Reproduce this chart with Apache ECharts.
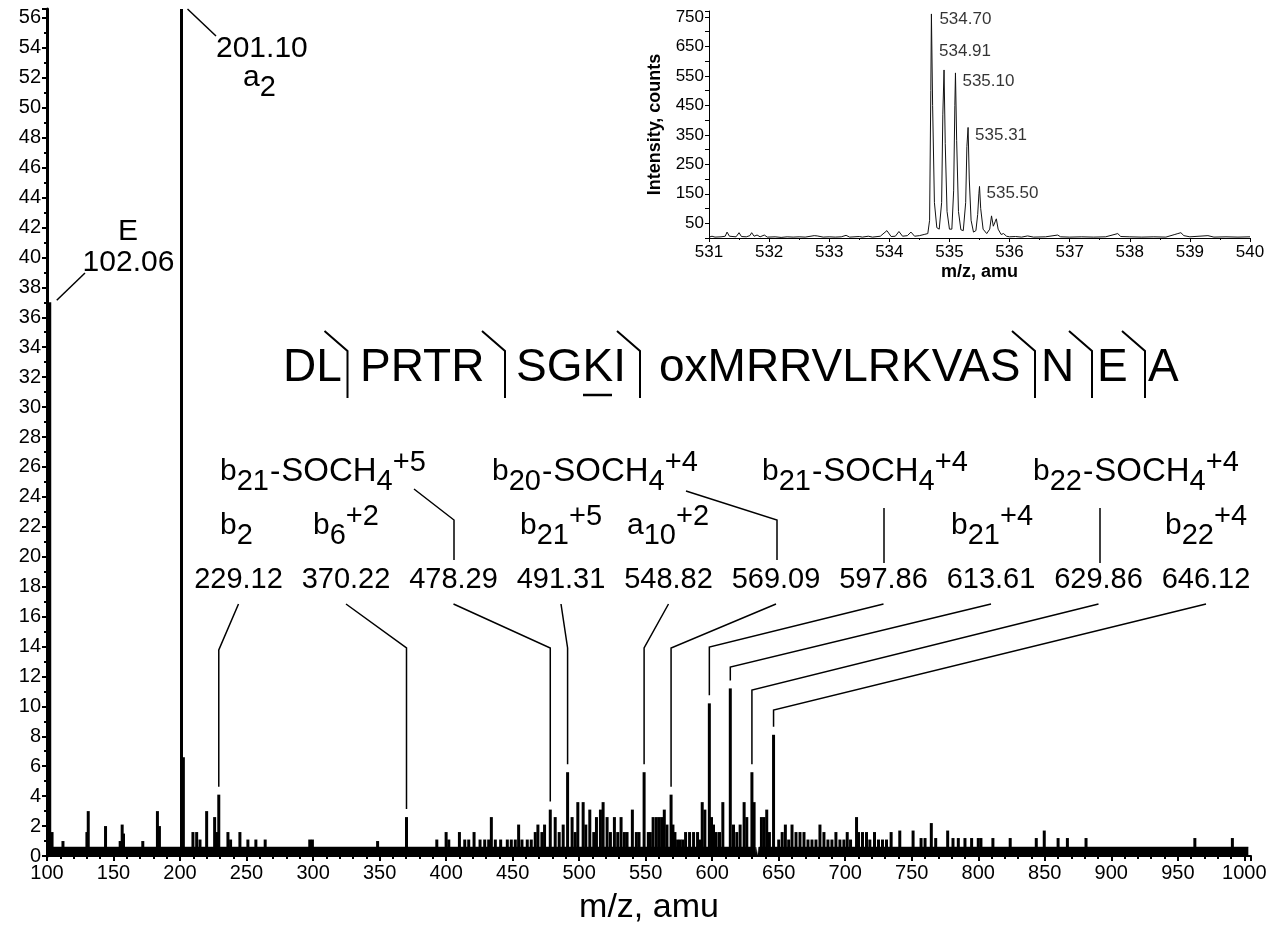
<!DOCTYPE html>
<html><head><meta charset="utf-8">
<script src="https://cdn.jsdelivr.net/npm/echarts@6/dist/echarts.min.js"></script>
<style>html,body{margin:0;padding:0;background:#fff}#c{width:1270px;height:928px}</style>
</head><body><div id="c"></div>
<script>
// ---------------- DATA ----------------
// MS/MS stick spectrum: peak m/z and relative intensity (201.10 is off scale)
const peakMz = [102.06,103.8,112,130,131,144,155,156.5,157.5,172,183,184.5,201.10,202.5,209.7,212.5,215,220,226,228,229.12,236,238,245,251,257,264,297.5,299.5,
  348.5,370.22,393,400,402,410,414,417,421,425.5,429,432,434,437,441,446,449,452,454.5,457,461,464,467,469,472,474,478.29,482,485,488,491.31,494.7,497,499,503,505,508,511,513,516,518,521,523.5,526.5,529,531.5,534,536,540,543,545,
  548.82,552,553.5,555.6,558,560,562,564,566,569.09,570.5,572,574,576,578,580,583,586,589,590.5,592.5,594.5,597.86,599.5,601,603,605.5,608,613.61,616,618.5,621,624,626,629.86,631.5,637,639,641,643,646.12,
  650,652.6,655,657.5,660,663,666,669,672,675,678,681,684,687,690,693,696,699,701.5,704,708.5,710,713,716,718.5,722,725,728,731,734.5,741,751,757,760,764.7,768,777,781,785,790,795,800,802,811,824,843.6,849.6,860,867,881,962.8,991];
const peakIntensity = [37,1.6,1.0,1.6,3.0,2.0,1.0,2.1,1.5,1.0,3.0,2.0,60,6.6,1.6,1.6,1.1,3.0,2.6,1.6,4.1,1.6,1.1,1.6,1.1,1.1,1.1,1.1,1.1,
  1.0,2.6,1.1,1.6,1.1,1.6,1.1,1.1,1.6,1.1,1.1,1.1,2.6,1.1,1.1,1.1,1.1,1.1,2.1,1.1,1.1,1.1,1.6,2.1,1.6,2.1,3.1,2.6,1.6,2.1,5.6,2.6,1.6,3.6,3.6,2.1,3.1,1.6,2.6,3.1,3.6,2.6,1.6,2.6,1.6,2.6,1.6,1.6,3.1,1.6,1.6,
  5.6,1.6,1.6,2.6,2.6,2.6,2.6,3.1,2.1,4.1,2.1,1.6,1.1,1.1,1.1,1.6,1.6,1.6,1.6,1.1,3.6,3.1,10.2,2.6,2.1,1.6,1.6,3.6,11.2,2.1,1.6,2.1,3.6,2.6,5.6,3.6,2.6,2.6,3.1,1.6,8.1,
  1.1,1.6,2.1,1.1,2.1,1.6,1.6,1.6,1.1,1.1,1.1,2.1,1.6,1.1,1.1,1.6,1.1,1.1,1.6,1.1,2.6,1.6,1.6,1.6,1.1,1.6,1.1,1.1,1.1,1.6,1.7,1.7,1.2,1.2,2.2,1.2,1.7,1.2,1.2,1.2,1.2,1.2,1.2,1.2,1.2,1.2,1.7,1.2,1.2,1.2,1.2,1.2];
// unresolved noise floor
const noiseMz    = [100, 632, 632, 632.8, 632.8, 634.2, 634.2, 635, 635, 1003];
const noiseLevel = [0.6, 0.6, 0,   0,     0.6,   0.6,   0,     0,   0.6, 0.6];

// annotated fragment ions
const annotMz     = [229.12, 370.22, 478.29, 491.31, 548.82, 569.09, 597.86, 613.61, 629.86, 646.12];
const annotLabels = ['229.12','370.22','478.29','491.31','548.82','569.09','597.86','613.61','629.86','646.12'];
const ionRow1 = ['{n|b}{s|21}{h|-}{c|SOCH}{s|4}{p|+5}','{n|b}{s|20}{h|-}{c|SOCH}{s|4}{p|+4}','{n|b}{s|21}{h|-}{c|SOCH}{s|4}{p|+4}','{n|b}{s|22}{h|-}{c|SOCH}{s|4}{p|+4}'];
const ionRow2 = ['{n|b}{s|2}','{n|b}{s|6}{p|+2}','{n|b}{s|21}{p|+5}','{n|a}{s|10}{p|+2}','{n|b}{s|21}{p|+4}','{n|b}{s|22}{p|+4}'];
const sequenceParts = ['DL','PRTR','SGKI','oxMRRVLRKVAS','N','E','A'];

// inset: precursor isotope cluster (profile)
const insetMz = [531.00,531.05,531.10,531.20,531.27,531.30,531.34,531.45,531.50,531.54,531.62,531.68,531.71,531.75,531.80,531.85,531.92,531.97,532.10,532.20,532.30,532.40,532.50,532.60,532.75,532.80,532.90,533.00,533.10,533.20,533.28,533.34,533.50,533.55,533.65,533.72,533.85,533.96,534.03,534.10,534.16,534.22,534.30,534.36,534.42,534.50,534.58,534.64,534.67,534.69,534.70,534.72,534.75,534.79,534.83,534.87,534.89,534.91,534.93,534.96,535.00,535.04,535.07,535.09,535.10,535.12,535.15,535.19,535.23,535.27,535.29,535.31,535.33,535.36,535.40,535.44,535.47,535.49,535.50,535.52,535.56,535.62,535.67,535.70,535.73,535.76,535.78,535.81,535.86,535.90,535.95,536.00,536.10,536.20,536.30,536.40,536.60,536.80,536.85,537.00,537.20,537.40,537.60,537.80,537.85,538.00,538.20,538.40,538.60,538.75,538.80,538.85,538.90,539.00,539.30,539.40,539.60,539.80,540.00];
const insetCounts = [3,6,3,4,6,20,6,4,18,5,4,8,18,6,10,4,10,3,4,2,4,3,4,3,8,7,3,4,3,4,9,3,5,3,6,3,6,25,5,6,22,6,8,20,6,8,12,15,60,500,760,450,120,35,30,120,420,570,320,90,30,30,160,450,560,330,90,28,25,120,310,375,200,60,20,25,80,150,175,100,30,15,30,75,40,55,65,30,12,15,6,4,5,3,7,3,4,10,4,3,4,3,4,15,5,4,3,4,3,12,15,18,8,4,8,3,4,3,4];
const insetLabelMz = [534.70, 534.91, 535.10, 535.31, 535.50];
const insetLabelCounts = [760, 570, 560, 375, 175];
// ---------------------------------------

const FONT = '"Liberation Sans", Arial, Helvetica, sans-serif';
const BLACK = '#000';
const chart = echarts.init(document.getElementById('c'));

const insetLabelOffsets = [[8, 5], [-5, -19], [7, 8], [7, 8], [7, 7]];

const option = {
  animation: false,
  backgroundColor: '#fff',
  grid: [
    {left: 47, right: 19, top: 9, bottom: 72, containLabel: false, outerBoundsMode: 'none'},
    {left: 709, right: 20, top: 11, bottom: 690, containLabel: false, outerBoundsMode: 'none'}
  ],
  xAxis: [
    {type: 'value', gridIndex: 0, min: 100, max: 1005, interval: 50,
     axisLine: {show: true, onZero: false, lineStyle: {color: BLACK, width: 2}},
     axisTick: {show: true, length: 5, lineStyle: {color: BLACK, width: 2}},
     minorTick: {show: true, splitNumber: 5, length: 3, lineStyle: {color: BLACK, width: 2}},
     axisLabel: {fontSize: 20, color: BLACK, fontFamily: FONT, margin: 7, formatter: v => (v <= 1000 && v % 50 === 0) ? String(v) : ''},
     splitLine: {show: false},
     name: 'm/z, amu', nameLocation: 'middle', nameGap: 35,
     nameTextStyle: {fontSize: 34, color: BLACK, fontFamily: FONT}},
    {type: 'value', gridIndex: 1, min: 531, max: 540, interval: 1,
     axisLine: {show: true, onZero: false, lineStyle: {color: BLACK, width: 1}},
     axisTick: {show: true, length: 4, lineStyle: {color: BLACK}},
     minorTick: {show: true, splitNumber: 2, length: 2, lineStyle: {color: BLACK}},
     axisLabel: {fontSize: 17, color: BLACK, fontFamily: FONT, margin: 6},
     splitLine: {show: false},
     name: 'm/z, amu', nameLocation: 'middle', nameGap: 25,
     nameTextStyle: {fontSize: 18, fontWeight: 'bold', color: BLACK, fontFamily: FONT}}
  ],
  yAxis: [
    {type: 'value', gridIndex: 0, min: 0, max: 56.6, interval: 2,
     axisLine: {show: true, onZero: false, lineStyle: {color: BLACK, width: 3}},
     axisTick: {show: true, length: 5, lineStyle: {color: BLACK, width: 2}},
     minorTick: {show: true, splitNumber: 2, length: 3, lineStyle: {color: BLACK, width: 2}},
     axisLabel: {fontSize: 20, color: BLACK, fontFamily: FONT, margin: 6, formatter: v => (v % 2 === 0) ? String(v) : ''},
     splitLine: {show: false}},
    {type: 'value', gridIndex: 1, min: 0, max: 770, interval: 50,
     axisLine: {show: true, onZero: false, lineStyle: {color: BLACK, width: 1}},
     axisTick: {show: true, length: 4, lineStyle: {color: BLACK}},
     axisLabel: {fontSize: 17, color: BLACK, fontFamily: FONT, margin: 5, formatter: v => (v % 100 === 50) ? String(v) : ''},
     splitLine: {show: false},
     name: 'Intensity, counts', nameLocation: 'middle', nameRotate: 90, nameGap: 45,
     nameTextStyle: {fontSize: 18, fontWeight: 'bold', color: BLACK, fontFamily: FONT}}
  ],
  series: [
    {type: 'line', xAxisIndex: 0, yAxisIndex: 0, silent: true, symbol: 'none',
     data: noiseMz.map((m, i) => [m, noiseLevel[i]]),
     lineStyle: {width: 0.5, color: BLACK}, areaStyle: {color: BLACK, opacity: 1}, z: 2},
    {type: 'bar', xAxisIndex: 0, yAxisIndex: 0, silent: true, clip: true, barWidth: 3,
     data: peakMz.map((m, i) => [m, peakIntensity[i]]),
     itemStyle: {color: BLACK}, z: 3},
    {type: 'line', xAxisIndex: 1, yAxisIndex: 1, silent: true, symbol: 'none',
     data: insetMz.map((m, i) => [m, insetCounts[i]]),
     lineStyle: {width: 1, color: '#111'}},
    {type: 'scatter', xAxisIndex: 1, yAxisIndex: 1, silent: true, symbolSize: 0,
     data: insetLabelMz.map((m, i) => ({value: [m, insetLabelCounts[i]],
       label: {show: true, position: 'right', distance: 0, offset: insetLabelOffsets[i],
               formatter: m.toFixed(2), fontSize: 17, color: BLACK, fontFamily: FONT}}))}
  ]
};
chart.setOption(option);

// ---------- annotations ----------
const RICH = {
  n: {fontSize: 30, fontFamily: FONT, fill: BLACK, lineHeight: 48, verticalAlign: 'middle'},
  h: {fontSize: 31, fontFamily: FONT, fill: BLACK, lineHeight: 48, verticalAlign: 'middle', padding: [0, 1, 0, 1]},
  c: {fontSize: 33, fontFamily: FONT, fill: BLACK, lineHeight: 48, verticalAlign: 'middle'},
  s: {fontSize: 29, fontFamily: FONT, fill: BLACK, lineHeight: 30, verticalAlign: 'bottom'},
  p: {fontSize: 29, fontFamily: FONT, fill: BLACK, lineHeight: 30, verticalAlign: 'top'}
};
const g = [];
function txt(x, y, text, size, align) {
  g.push({type: 'text', x: x, y: y, silent: true,
    style: {text: text, fontSize: size, fontFamily: FONT, fill: BLACK, align: align || 'left', verticalAlign: 'middle'}});
}
function rich(x, y, text) {
  g.push({type: 'text', x: x, y: y, silent: true,
    style: {text: text, rich: RICH, fontSize: 30, fontFamily: FONT, fill: BLACK, align: 'left', verticalAlign: 'middle'}});
}
function poly(pts, w) {
  g.push({type: 'polyline', silent: true, shape: {points: pts}, style: {stroke: BLACK, lineWidth: w || 1.5, fill: null}});
}
function peakTop(mz) {
  const i = peakMz.indexOf(mz);
  return chart.convertToPixel({xAxisIndex: 0, yAxisIndex: 0}, [mz, Math.min(peakIntensity[i], 56.6)]);
}

// 201.10 / a2
let p = peakTop(201.10);
poly([[p[0] + 6, p[1]], [216, 36]]);
txt(216, 49, '201.10', 30);
rich(243, 78, '{n|a}{s|2}');
// 102.06 / E
p = peakTop(102.06);
poly([[p[0] + 7, p[1] - 2], [85, 273]]);
txt(128, 232, 'E', 30, 'center');
txt(128.5, 263, '102.06', 30, 'center');

// sequence
const seqX = [283, 360, 516, 659, 1041, 1097, 1148];
sequenceParts.forEach((s, i) => txt(seqX[i], 368.5, s, 46));
[347.5, 505, 640, 1035, 1092, 1145].forEach(vx => poly([[vx - 23, 331], [vx, 351], [vx, 398]], 2));
poly([[583, 395], [612, 395]], 2.5);

// ion labels
const row1X = [220, 492, 762, 1033];
ionRow1.forEach((t, i) => rich(row1X[i], 472, t));
const row2X = [220, 313, 520, 627, 951, 1165];
ionRow2.forEach((t, i) => rich(row2X[i], 526, t));
const numX = annotMz.map((_, i) => 238.5 + i * 107.5);
annotLabels.forEach((t, i) => txt(numX[i], 580, t, 29, 'center'));

// row1 -> number connectors
poly([[414, 489], [454, 520], [454, 560]]);
poly([[686, 491], [777, 520], [777, 560]]);
poly([[884, 508], [884, 563]]);
poly([[1100, 508], [1100, 563]]);

// number -> peak leaders
const cornerY = [650, 648, 648, 648, 648, 648, 647, 667, 690, 710];
annotMz.forEach((mz, i) => {
  const t = peakTop(mz);
  poly([[numX[i], 604], [t[0], cornerY[i]], [t[0], t[1] - 8]]);
});

chart.setOption({graphic: {elements: g}});
</script>
</body></html>
